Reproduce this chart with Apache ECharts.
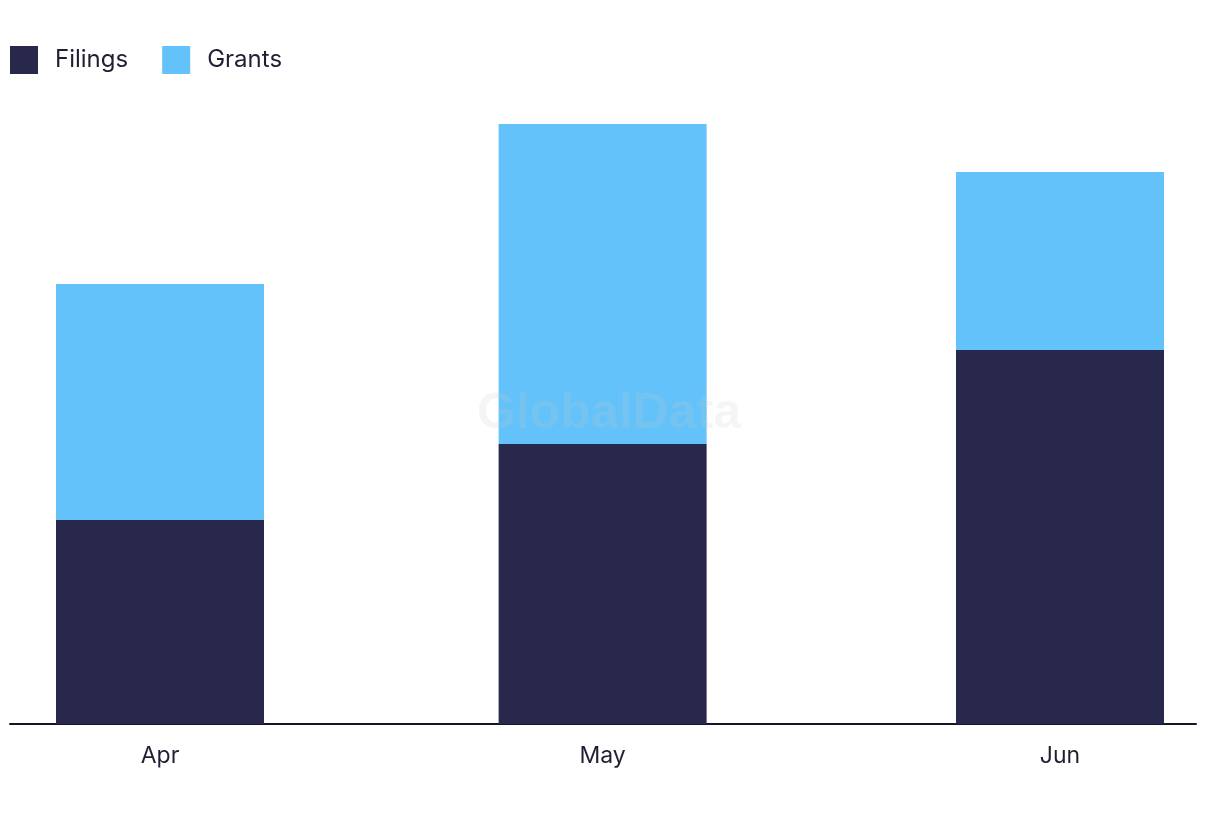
<!DOCTYPE html>
<html>
<head>
<meta charset="utf-8">
<script src="https://cdn.jsdelivr.net/npm/echarts@6/dist/echarts.min.js"></script>
<style>html,body{margin:0;padding:0;background:#fff}#c{width:1220px;height:822px}</style>
</head>
<body>
<div id="c"></div>
<script>
const categories = ['Apr', 'May', 'Jun'];
const periods = ['2024-04-01', '2024-05-01', '2024-06-01'];
const filings = [51, 70, 93.5];
const grants = [59, 80, 44.5];

const pair = (vals) => vals.map((v, i) => [periods[i], v]);
const labelFor = {};
periods.forEach((p, i) => { labelFor[echarts.number.parseDate(p).getTime()] = categories[i]; });

const chart = echarts.init(document.getElementById('c'));
const font = 'Inter, "Noto Sans", sans-serif';
chart.setOption({
  animation: false,
  backgroundColor: '#ffffff',
  legend: {
    left: 10, top: 46, padding: 0, itemWidth: 28, itemHeight: 28, itemGap: 34,
    icon: 'rect',
    textStyle: { fontFamily: font, fontSize: 24, color: '#1f1f33', padding: [0, 0, 0, 12] },
    data: ['Filings', 'Grants']
  },
  grid: [
    { left: 56, right: 56, top: 124, bottom: 98 },
    { left: 10, right: 24, top: 124, bottom: 98 }
  ],
  xAxis: [
    {
      type: 'time', gridIndex: 0,
      min: periods[0], max: periods[periods.length - 1],
      axisLine: { show: false }, axisTick: { show: false }, splitLine: { show: false },
      axisLabel: {
        fontFamily: font, fontSize: 23, color: '#1f1f33', margin: 21, hideOverlap: false,
        formatter: (v) => labelFor[v] || ''
      }
    },
    {
      type: 'category', data: [''], gridIndex: 1,
      axisLine: { show: true, lineStyle: { color: '#15152a', width: 2 } },
      axisTick: { show: false }, axisLabel: { show: false }
    }
  ],
  yAxis: [
    { type: 'value', gridIndex: 0, min: 0, max: 150, show: false },
    { type: 'value', gridIndex: 1, min: 0, max: 150, show: false }
  ],
  series: [
    { name: 'Filings', type: 'bar', stack: 'a', data: pair(filings), barWidth: 208,
      itemStyle: { color: '#28284c' } },
    { name: 'Grants', type: 'bar', stack: 'a', data: pair(grants), barWidth: 208,
      itemStyle: { color: '#62c2f9' } }
  ],
  graphic: [{
    type: 'text', left: 477, top: 389, z: 100,
    style: { text: 'GlobalData', fontFamily: 'Liberation Sans, Arial, sans-serif', fontWeight: 'bold',
      fontSize: 50, fill: 'rgba(200,200,200,0.18)' }
  }]
});
</script>
</body>
</html>
